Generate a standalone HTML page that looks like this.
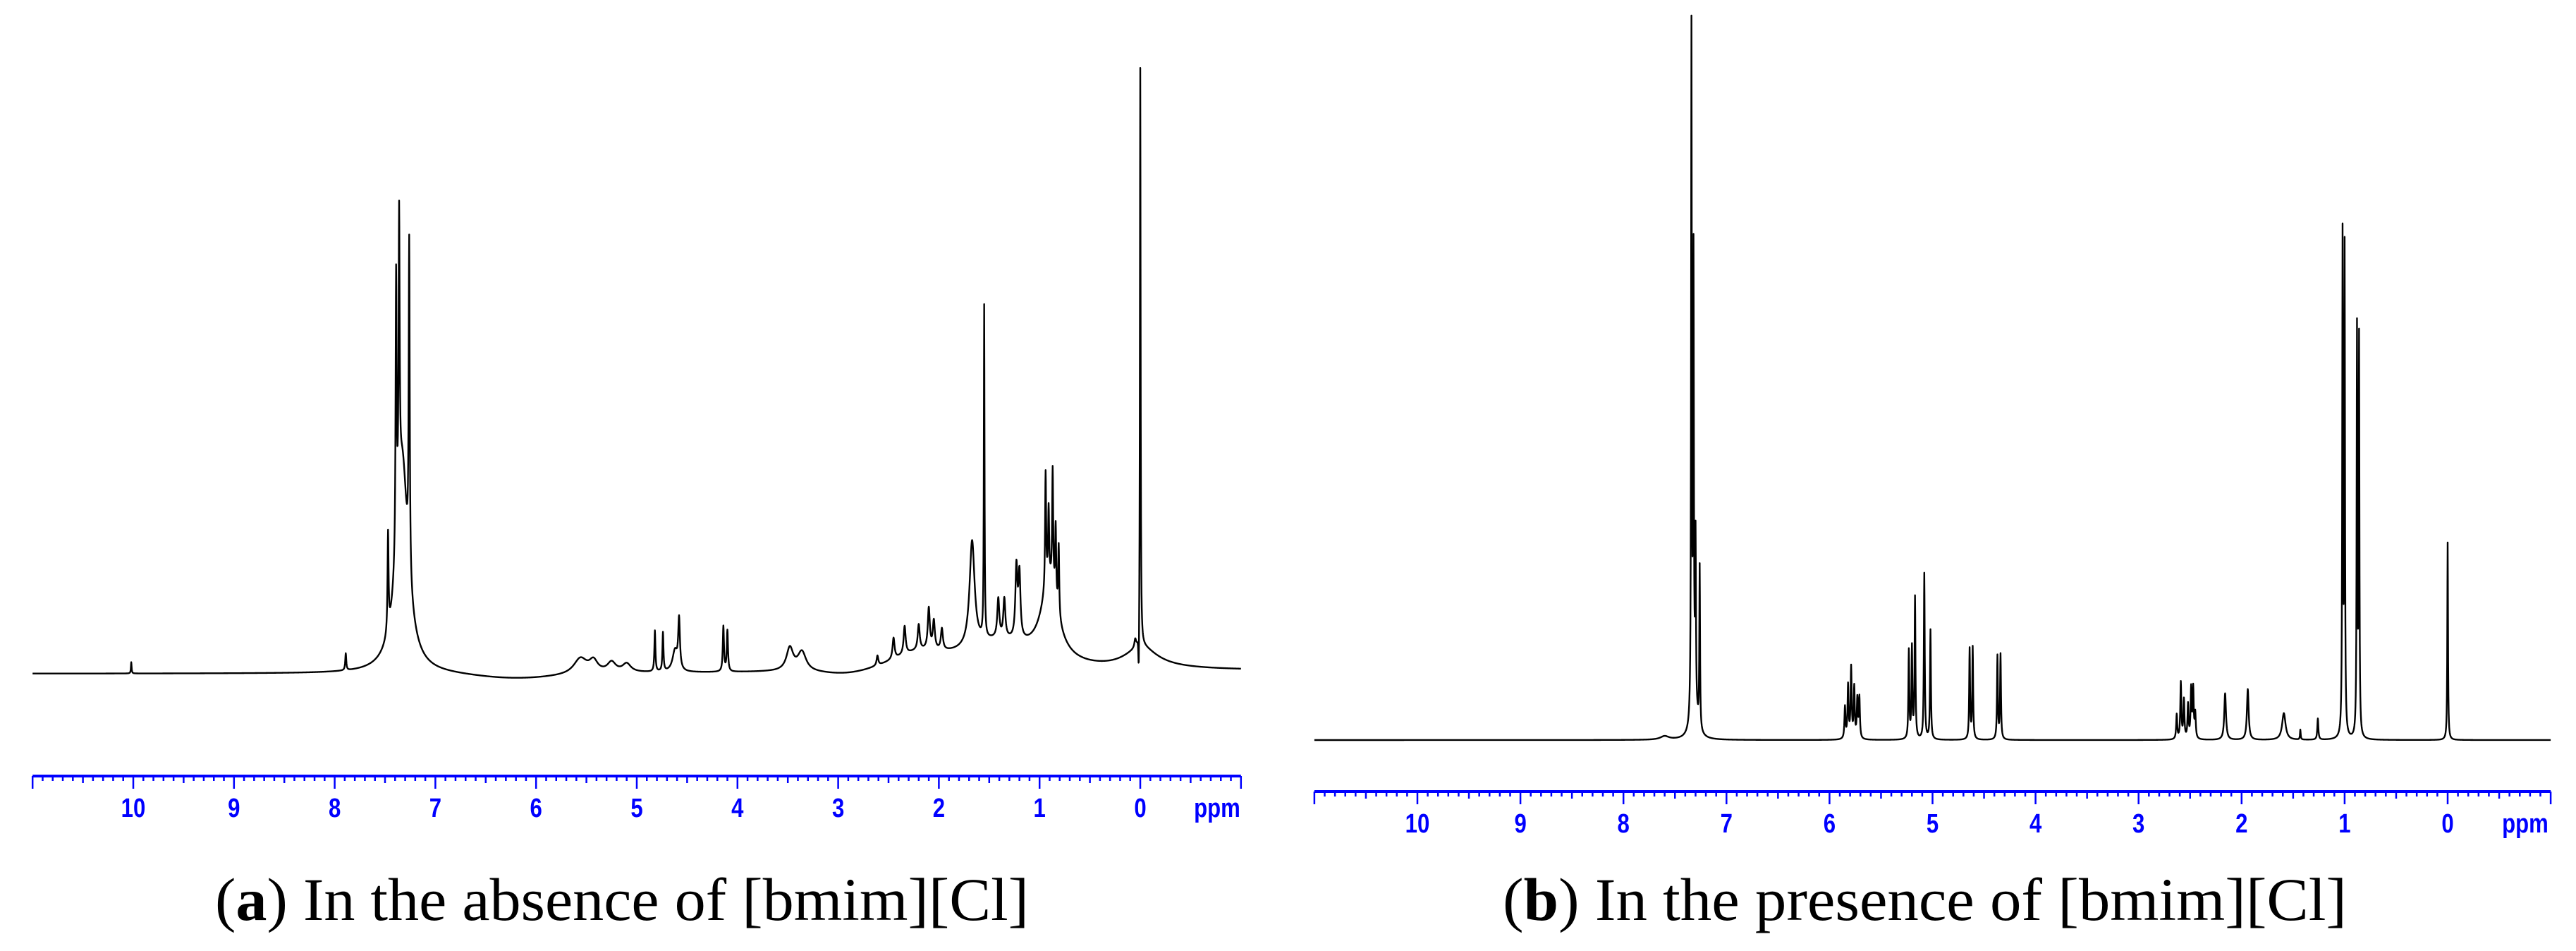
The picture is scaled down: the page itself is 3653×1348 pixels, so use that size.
<!DOCTYPE html>
<html><head><meta charset="utf-8"><style>
html,body{margin:0;padding:0;background:#fff;}
svg{display:block;}
</style></head><body>
<svg id="fig" width="3653" height="1348" viewBox="0 0 3653 1348" xmlns="http://www.w3.org/2000/svg">
<rect width="3653" height="1348" fill="#fff"/>
<g id="panelA"></g>
<g id="panelB"></g>
<text x="305" y="1304" font-family="Liberation Serif, serif" font-size="86" textLength="1154" lengthAdjust="spacingAndGlyphs">(<tspan font-weight="bold">a</tspan>) In the absence of [bmim][Cl]</text>
<text x="2131" y="1304" font-family="Liberation Serif, serif" font-size="86" textLength="1197" lengthAdjust="spacingAndGlyphs">(<tspan font-weight="bold">b</tspan>) In the presence of [bmim][Cl]</text>
</svg>
<script>
// Axis tick labels (ppm)
const tickLabels = [10, 9, 8, 7, 6, 5, 4, 3, 2, 1, 0];
// Panel A peaks: position (ppm), height (px above baseline), half-width (ppm)
const peaksA_ppm = [10.02, 7.89, 7.47, 7.39, 7.36, 7.26, 7.33, 5.56, 5.43, 5.25, 5.10, 4.82, 4.74, 4.58, 4.62, 4.14, 4.10, 3.48, 3.36, 2.61, 2.45, 2.34, 2.20, 2.10, 2.05, 1.97, 2.2, 1.67, 1.55, 1.41, 1.35, 1.23, 1.20, 0.94, 0.91, 0.87, 0.84, 0.81, 0.9, 1.4, 0.00, 0.015, 0.05, 0.0];
const peaksA_h   = [16, 24, 140, 390, 400, 470, 300, 22, 16, 14, 12, 58, 55, 70, 30, 64, 58, 32, 27, 14, 30, 40, 36, 58, 40, 30, 22, 150, 470, 55, 55, 100, 90, 165, 100, 165, 105, 100, 110, 40, 830, -75, 12, 30];
const peaksA_w   = [0.004, 0.006, 0.006, 0.006, 0.006, 0.006, 0.07, 0.08, 0.05, 0.05, 0.05, 0.006, 0.006, 0.01, 0.03, 0.007, 0.007, 0.04, 0.05, 0.01, 0.012, 0.012, 0.012, 0.012, 0.012, 0.012, 0.35, 0.03, 0.004, 0.012, 0.012, 0.012, 0.012, 0.006, 0.006, 0.006, 0.006, 0.006, 0.1, 0.45, 0.004, 0.005, 0.01, 0.2];
// Panel B peaks
const peaksB_ppm = [7.60, 7.34, 7.32, 7.30, 7.26, 7.31, 5.85, 5.82, 5.79, 5.76, 5.73, 5.71, 5.23, 5.20, 5.17, 5.08, 5.02, 4.64, 4.61, 4.37, 4.34, 2.63, 2.59, 2.56, 2.52, 2.49, 2.47, 2.45, 2.16, 1.94, 1.59, 1.43, 1.26, 1.02, 1.00, 0.88, 0.86, 0.00];
const peaksB_h   = [5, 975, 625, 230, 230, 50, 45, 75, 100, 72, 55, 58, 125, 128, 200, 235, 155, 128, 130, 118, 120, 35, 80, 55, 48, 70, 70, 35, 66, 72, 38, 14, 30, 705, 685, 575, 560, 280];
const peaksB_w   = [0.05, 0.004, 0.004, 0.004, 0.004, 0.03, 0.006, 0.006, 0.006, 0.006, 0.006, 0.006, 0.005, 0.005, 0.005, 0.005, 0.005, 0.005, 0.005, 0.005, 0.005, 0.006, 0.006, 0.006, 0.006, 0.006, 0.006, 0.006, 0.01, 0.01, 0.02, 0.004, 0.006, 0.004, 0.004, 0.004, 0.004, 0.004];

const NS = 'http://www.w3.org/2000/svg';
function mk(tag, attrs, parent) {
  const el = document.createElementNS(NS, tag);
  for (const k in attrs) el.setAttribute(k, attrs[k]);
  parent.appendChild(el);
  return el;
}

function drawPanel(g, cfg, P, H, W, baseFn) {
  const xOf = ppm => cfg.x10 + (10 - ppm) * cfg.perPpm;
  let s = [];
  for (let p = 11; p >= -1.0001; p -= 0.0025) s.push(p);
  for (const p of P) { s.push(p); s.push(p + 0.002); s.push(p - 0.002); }
  s = s.filter(p => p <= 11 && p >= -1).sort((a, b) => b - a);
  let d = '';
  s.forEach((p, i) => {
    let y = 0;
    for (let k = 0; k < P.length; k++) {
      const dx = p - P[k];
      y += H[k] * W[k] * W[k] / (dx * dx + W[k] * W[k]);
    }
    const py = baseFn(p) - y;
    d += (i ? 'L' : 'M') + xOf(p).toFixed(2) + ' ' + py.toFixed(2);
  });
  const path = mk('path', {d: d, fill: 'none', stroke: '#000', 'stroke-width': 2.4, 'stroke-linejoin': 'round'}, g);
  
  

  const ax = mk('g', {}, g);
  
  
  const blue = '#0000ff';
  mk('line', {x1: xOf(11), x2: xOf(-1), y1: cfg.axisY, y2: cfg.axisY, stroke: blue, 'stroke-width': 4}, ax);
  for (let i = 0; i <= 120; i++) {
    const p = 11 - i * 0.1;
    const len = (i % 10 === 0) ? 18 : (i % 5 === 0 ? 10 : 7);
    mk('line', {x1: xOf(p), x2: xOf(p), y1: cfg.axisY, y2: cfg.axisY + len, stroke: blue, 'stroke-width': 2.5}, ax);
  }
  tickLabels.forEach(v => {
    const t = mk('text', {transform: `translate(${xOf(v)},${cfg.labelY}) scale(0.82,1)`, 'text-anchor': 'middle',
      'font-family': 'Liberation Sans, sans-serif', 'font-weight': 'bold', 'font-size': 38, fill: blue}, ax);
    t.textContent = v;
    
    
  });
  const u = mk('text', {transform: `translate(${cfg.ppmX},${cfg.labelY}) scale(0.82,1)`, 'text-anchor': 'middle',
    'font-family': 'Liberation Sans, sans-serif', 'font-weight': 'bold', 'font-size': 38, fill: blue}, ax);
  u.textContent = 'ppm';
  
  
}

drawPanel(document.getElementById('panelA'),
  {x10: 189, perPpm: 142.8, axisY: 1100, labelY: 1158, ppmX: 1726},
  peaksA_ppm, peaksA_h, peaksA_w,
  p => 955 + 8 * Math.exp(-Math.pow((p - 6.2) / 0.6, 2)) + 7 * Math.exp(-Math.pow((p - 2.9) / 0.35, 2)) - 4 * (p < 0 ? 1 : 0));
drawPanel(document.getElementById('panelB'),
  {x10: 2010, perPpm: 146.1, axisY: 1122, labelY: 1180, ppmX: 3581},
  peaksB_ppm, peaksB_h, peaksB_w,
  p => 1049);
</script>
</body></html>
